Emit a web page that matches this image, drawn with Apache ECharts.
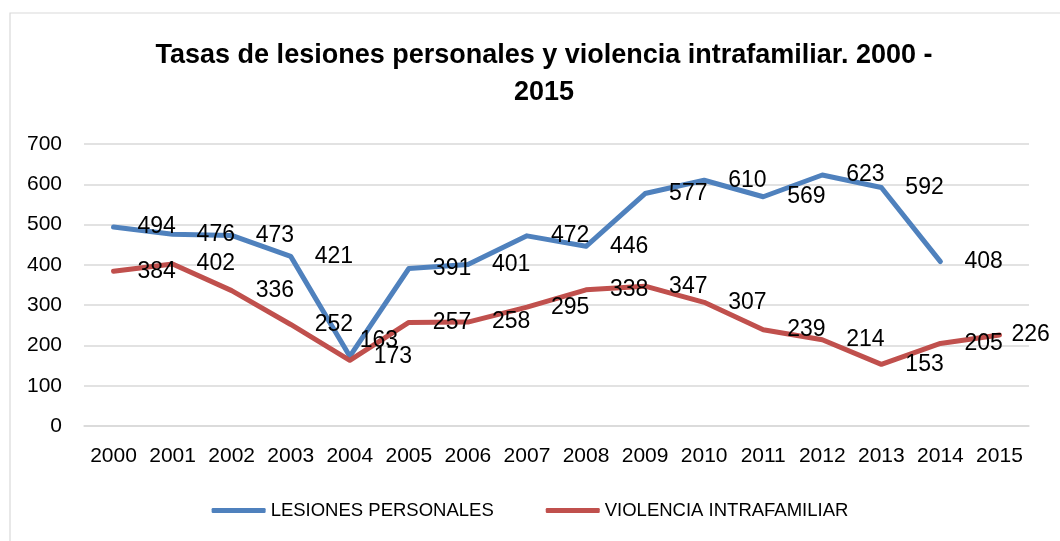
<!DOCTYPE html>
<html>
<head>
<meta charset="utf-8">
<script src="https://cdn.jsdelivr.net/npm/echarts@6/dist/echarts.min.js"></script>
<style>
html,body{margin:0;padding:0;background:#fff;}
#c{width:1060px;height:541px;}
</style>
</head>
<body>
<div id="c"></div>
<script>
const years = ['2000','2001','2002','2003','2004','2005','2006','2007','2008','2009','2010','2011','2012','2013','2014','2015'];
const lesiones = [494, 476, 473, 421, 173, 391, 401, 472, 446, 577, 610, 569, 623, 592, 408];
const violencia = [384, 402, 336, 252, 163, 257, 258, 295, 338, 347, 307, 239, 214, 153, 205, 226];
const yTicks = [0, 100, 200, 300, 400, 500, 600, 700];
const titleText = 'Tasas de lesiones personales y violencia intrafamiliar. 2000 -\n2015';
const seriesNames = ['LESIONES PERSONALES', 'VIOLENCIA INTRAFAMILIAR'];

const FONT = '"Liberation Sans", Arial, sans-serif';
const labelNudges = { 1: { 4: [-14, -20], 15: [-12, 0] } };

function buildData(vals, sIdx) {
  return vals.map((v, i) => {
    const n = labelNudges[sIdx] && labelNudges[sIdx][i];
    return n ? { value: v, label: { offset: n } } : v;
  });
}

const chart = echarts.init(document.getElementById('c'), null, { renderer: 'canvas' });
const colors = ['#4F81BD', '#C0504D'];
const mkSeries = (name, vals, idx) => ({
  name: name,
  type: 'line',
  data: buildData(vals, idx),
  symbol: 'circle',
  symbolSize: 2,
  showSymbol: true,
  lineStyle: { width: 5, color: colors[idx], cap: 'round', join: 'round' },
  itemStyle: { color: colors[idx] },
  label: {
    show: true,
    position: 'right',
    distance: 23,
    color: '#000',
    fontFamily: FONT,
    fontSize: 23
  },
  emphasis: { disabled: true },
  animation: false
});

chart.setOption({
  animation: false,
  backgroundColor: '#fff',
  color: colors,
  graphic: [{
    type: 'rect',
    shape: { x: 10, y: 13, width: 1100, height: 600 },
    style: { fill: 'none', stroke: '#d9d9d9', lineWidth: 1.2 },
    silent: true, z: -1
  }],
  title: {
    text: titleText,
    left: 539,
    textAlign: 'center',
    top: 32,
    textStyle: { fontFamily: FONT, fontSize: 27, fontWeight: 'bold', color: '#000', lineHeight: 37 }
  },
  legend: {
    bottom: 16,
    left: 'center',
    itemWidth: 54,
    itemHeight: 5,
    itemGap: 52,
    icon: 'roundRect',
    textStyle: { fontFamily: FONT, fontSize: 18.5, color: '#000' },
    data: seriesNames
  },
  grid: { left: 84, right: 31, top: 144, bottom: 115, containLabel: false },
  xAxis: {
    type: 'category',
    data: years,
    boundaryGap: true,
    axisLine: { show: true, lineStyle: { color: '#d9d9d9', width: 1.5 } },
    axisTick: { show: false },
    axisLabel: { fontFamily: FONT, fontSize: 21, color: '#000', margin: 20, interval: 0 }
  },
  yAxis: {
    type: 'value',
    min: yTicks[0],
    max: yTicks[yTicks.length - 1],
    interval: 100,
    axisLine: { show: false },
    axisTick: { show: false },
    splitLine: { lineStyle: { color: '#d9d9d9', width: 1.5 } },
    axisLabel: { fontFamily: FONT, fontSize: 21, color: '#000', margin: 22 }
  },
  series: [
    mkSeries(seriesNames[0], lesiones, 0),
    mkSeries(seriesNames[1], violencia, 1)
  ]
});
</script>
</body>
</html>
